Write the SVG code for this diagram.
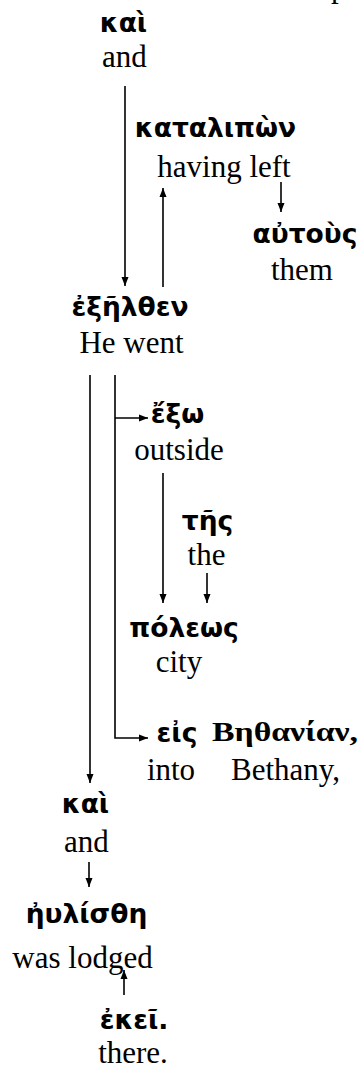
<svg xmlns="http://www.w3.org/2000/svg" width="362" height="1070" viewBox="0 0 362 1070">
<style>
.g{font-family:"DejaVu Sans",sans-serif;font-weight:bold;font-size:26.5px;fill:#000;text-anchor:middle}
.gs{font-family:"Liberation Serif",serif;font-weight:bold;font-size:28px;fill:#000;text-anchor:middle}
.e{font-family:"Liberation Serif",serif;font-size:31px;fill:#000;text-anchor:middle}
.c{stroke:#000;stroke-width:1.6;fill:none}
</style>
<defs>
<marker id="ah" markerUnits="userSpaceOnUse" markerWidth="10" markerHeight="8" refX="9" refY="4" orient="auto">
<path d="M0,0.5 L9,4 L0,7.5 z" fill="#000"/>
</marker>
</defs>
<rect width="362" height="1070" fill="#fff"/>
<text class="e" x="331" y="-3.5" style="text-anchor:start">p</text>
<g id="connectors">
<path class="c" d="M125,86 V286" marker-end="url(#ah)"/>
<path class="c" d="M163,287 V188" marker-end="url(#ah)"/>
<path class="c" d="M281,182 V212" marker-end="url(#ah)"/>
<path class="c" d="M115,375 V738 H148" marker-end="url(#ah)"/>
<path class="c" d="M115,418 H148" marker-end="url(#ah)"/>
<path class="c" d="M90,375 V783" marker-end="url(#ah)"/>
<path class="c" d="M163,473 V603" marker-end="url(#ah)"/>
<path class="c" d="M207,573 V603" marker-end="url(#ah)"/>
<path class="c" d="M89,862 V887" marker-end="url(#ah)"/>
<path class="c" d="M124,995 V970" marker-end="url(#ah)"/>
</g>
<g id="n1"><text class="g" x="123.5" y="32">καὶ</text><text class="e" x="124.5" y="67">and</text></g>
<g id="n2"><text class="g" x="215.5" y="137">καταλιπὼν</text><text class="e" x="224" y="177">having left</text></g>
<g id="n3"><text class="g" x="305" y="243">αὐτοὺς</text><text class="e" x="302" y="280">them</text></g>
<g id="n4"><text class="g" x="130" y="316">ἐξῆλθεν</text><text class="e" x="131.5" y="353">He went</text></g>
<g id="n5"><text class="g" x="177.5" y="423">ἔξω</text><text class="e" x="179" y="460">outside</text></g>
<g id="n6"><text class="g" x="207.5" y="530">τῆς</text><text class="e" x="206.5" y="565">the</text></g>
<g id="n7"><text class="g" x="184" y="637">πόλεως</text><text class="e" x="179" y="672">city</text></g>
<g id="n8"><text class="g" x="177" y="742">εἰς</text><text class="e" x="171" y="780">into</text></g>
<g id="n9"><text class="gs" x="285" y="741" textLength="146" lengthAdjust="spacingAndGlyphs">Βηθανίαν,</text><text class="e" x="285.5" y="780">Bethany,</text></g>
<g id="n10"><text class="g" x="85.5" y="813">καὶ</text><text class="e" x="86.5" y="852">and</text></g>
<g id="n11"><text class="g" x="86.5" y="923">ἠυλίσθη</text><text class="e" x="82.5" y="968">was lodged</text></g>
<g id="n12"><text class="g" x="134" y="1029">ἐκεῖ.</text><text class="e" x="133" y="1063">there.</text></g>
</svg>
